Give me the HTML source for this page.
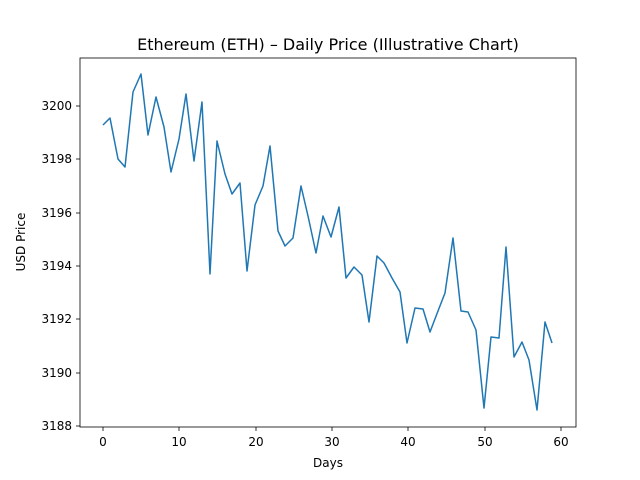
<!DOCTYPE html>
<html><head><meta charset="utf-8"><style>body{margin:0;background:#fff}svg{display:block}text{font-family:"DejaVu Sans","Liberation Sans",sans-serif;fill:#000}</style></head><body>
<svg width="640" height="480" xmlns="http://www.w3.org/2000/svg">
<rect width="640" height="480" fill="#fff"/>
<text x="328" y="50" font-size="16" text-anchor="middle">Ethereum (ETH) – Daily Price (Illustrative Chart)</text>
<polyline fill="none" stroke="#1f77b4" stroke-width="1.5" stroke-linejoin="round" points="103,125 110,118 118,159 125,167 133,92 141,74 148,135 156,97 164,127 171,172 179,139 186,94 194,161 202,102 210,274 217,141 225,174 232,194 240,183 247,271 255,205 263,186 270,146 278,231 285,246 293,238 301,186 308,216 316,253 323,216 331,237 339,207 346,278 354,267 362,275 369,322 377,256 384,263 392,278 400,292 407,343 415,308 423,309 430,332 438,311 445,293 453,238 461,311 468,312 476,330 484,408 491,337 499,338 506,247 514,357 522,342 529,360 537,410 545,322 552,343"/>
<rect x="80" y="58" width="496" height="369" fill="none" stroke="#000" stroke-width="0.8"/>
<g stroke="#000" stroke-width="0.8">
<line x1="103" y1="427" x2="103" y2="431"/><line x1="179" y1="427" x2="179" y2="431"/><line x1="256" y1="427" x2="256" y2="431"/><line x1="332" y1="427" x2="332" y2="431"/><line x1="408" y1="427" x2="408" y2="431"/><line x1="485" y1="427" x2="485" y2="431"/><line x1="561" y1="427" x2="561" y2="431"/>
<line x1="76" y1="426" x2="80" y2="426"/><line x1="76" y1="373" x2="80" y2="373"/><line x1="76" y1="319" x2="80" y2="319"/><line x1="76" y1="266" x2="80" y2="266"/><line x1="76" y1="213" x2="80" y2="213"/><line x1="76" y1="159" x2="80" y2="159"/><line x1="76" y1="106" x2="80" y2="106"/>
</g>
<g font-size="12" text-anchor="middle">
<text x="103" y="446">0</text><text x="179" y="446">10</text><text x="256" y="446">20</text><text x="332" y="446">30</text><text x="408" y="446">40</text><text x="485" y="446">50</text><text x="561" y="446">60</text>
</g>
<g font-size="12" text-anchor="end">
<text x="72" y="430">3188</text><text x="72" y="377">3190</text><text x="72" y="323">3192</text><text x="72" y="270">3194</text><text x="72" y="217">3196</text><text x="72" y="163">3198</text><text x="72" y="110">3200</text>
</g>
<text x="328" y="467" font-size="12" text-anchor="middle">Days</text>
<text transform="translate(25,242) rotate(-90)" font-size="12" text-anchor="middle">USD Price</text>
</svg>
</body></html>
